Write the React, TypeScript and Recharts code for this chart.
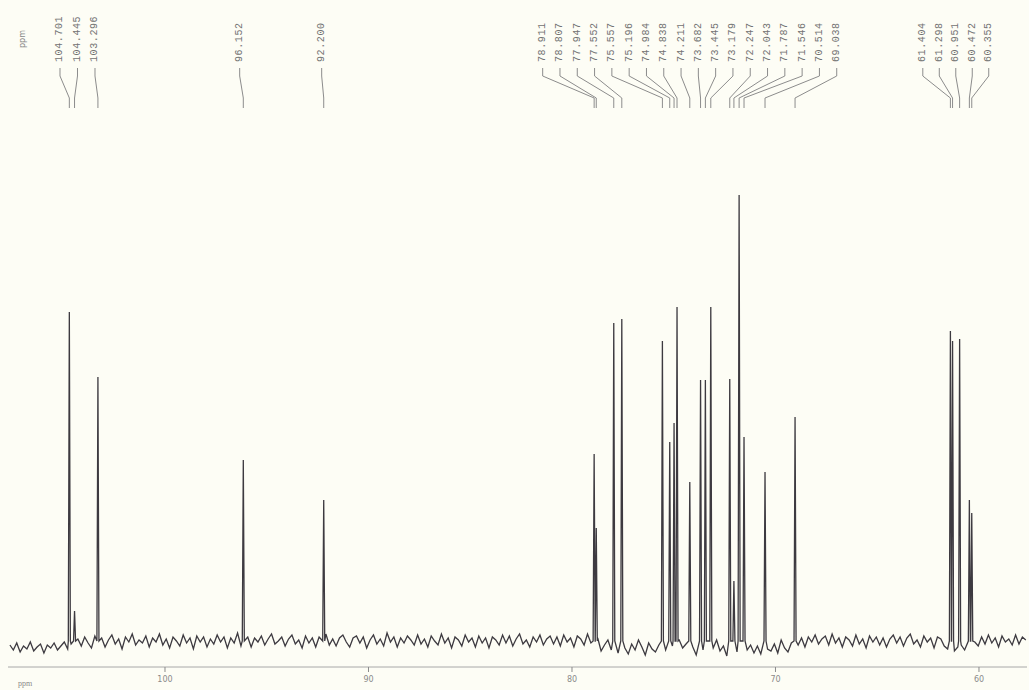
import { ComposedChart, Line, Scatter, XAxis, YAxis, Label } from 'recharts';

// 13C NMR peak list (ppm) and peak heights
const peakPpm = [
  104.701, 104.445, 103.296, 96.152, 92.2,
  78.911, 78.807, 77.947, 77.552, 75.557, 75.196, 74.984, 74.838, 74.211,
  73.682, 73.445, 73.179, 72.247, 72.043, 71.787, 71.546, 70.514, 69.038,
  61.404, 61.298, 60.951, 60.472, 60.355,
];
const peakHeight = [
  329, 30, 264, 181, 141,
  187, 113, 318, 322, 300, 199, 218, 334, 159,
  261, 261, 334, 262, 60, 446, 204, 169, 224,
  310, 300, 302, 141, 128,
];

// label slots above the spectrum (first peak index, last index, first slot ppm, spacing)
const labelGroups = [
  { from: 0, to: 2, start: 105.16, step: 0.86 },
  { from: 3, to: 3, start: 96.33, step: 0 },
  { from: 4, to: 4, start: 92.3, step: 0 },
  { from: 5, to: 22, start: 81.44, step: 0.85 },
  { from: 23, to: 27, start: 62.76, step: 0.81 },
];

const axisTicks = [100, 90, 80, 70, 60];

// baseline noise, left to right (107.6 -> 57.7 ppm)
const noise = [
  -4, -9, -2, -11, -5, -8, -1, -10, -6, -3, -12, -4, -7, -2, -9, -5, -1, -8, -3, -6,
  2, -5, 4, -2, -7, 5, -1, 3, -6, 1, 6, -3, 2, -8, 4, -1, 7, -4, 1, -2,
  5, -6, 3, -1, 7, -4, 2, -7, 4, 0, -5, 6, -2, 3, -8, 5, -1, 4, -6, 2,
  -3, 6, -1, 4, -7, 3, -2, 8, -5, 1, 4, -6, 3, -1, 5, -4, 2, 7, -3, 0,
  4, -5, 2, 6, -3, 1, -7, 5, -2, 3, -6, 4, 0, 7, -4, 2, -5, 3, 6, -1,
  -6, 3, 5, -2, 4, -7, 1, 6, -3, 2, -5, 8, -1, 4, -6, 3, -2, 5, 1, -4,
  6, -3, 2, -6, 5, 0, -4, 7, -2, 3, -7, 4, 1, -5, 6, -1, 3, -6, 5, -2,
  3, -7, 4, 1, -4, 6, -2, 5, -5, 2, 7, -3, 1, -6, 4, -1, 6, -4, 2, 5,
  -3, 4, -5, 6, -1, 3, -6, 5, 2, -4, 7, -2, -8, 3, -10, -4, 1, -9, -3, -12,
  2, -7, -13, -3, -9, 1, -6, -14, -2, -8, -11, -4, 2, -9, -15, -5, -10, 1, -7, -3,
  -12, -6, -14, -2, -9, -4, -13, -7, 1, -10, -5, -15, -8, -3, -11, -6, -1, -9, -4, -12,
  -5, -13, -2, -8, -10, -3, -12, 1, -7, -11, -2, 5, -4, 3, -6, 4, -1, 6, -3, 2,
  5, -4, 7, -2, 3, -6, 4, 1, -5, 6, -3, 2, -7, 5, -1, 4, -4, 3, -6, 2,
  6, -2, 4, -5, 3, 7, -3, 1, -6, 5, -1, 3, -7, 4, 2, -5, -8, -3, -10, -6,
  -4, -9, -2, -7, -1, -5, 4, -3, 6, -2, 3, -6, 5, -1, 2, -4, 6, -3, 4, 1,
];

const X_MIN = 57.64;
const X_MAX = 107.715;
const NOISE_FROM = 107.62;
const NOISE_TO = 57.7;
const FOOT = 0.05;

// leader line levels (intensity units, 1 unit = 1px)
const TEXT_Y = 579;
const LEAD_TOP = 573;
const LEAD_BEND1 = 565;
const LEAD_BEND2 = 543;
const LEAD_BOTTOM = 533;

function buildSpectrum() {
  const pts: { x: number; y: number }[] = [];
  const stepX = (NOISE_FROM - NOISE_TO) / (noise.length - 1);
  noise.forEach((v, i) => {
    const x = NOISE_FROM - i * stepX;
    if (peakPpm.every((p) => Math.abs(p - x) > FOOT + 0.02)) pts.push({ x, y: v });
  });
  peakPpm.forEach((p, i) => {
    pts.push({ x: p + FOOT, y: 0 });
    pts.push({ x: p, y: peakHeight[i] });
    pts.push({ x: p - FOOT, y: 0 });
  });
  return pts.sort((a, b) => b.x - a.x);
}

function labelSlots() {
  const slots: { x: number; peak: number; text: string }[] = [];
  labelGroups.forEach((g) => {
    for (let i = g.from; i <= g.to; i++) {
      slots.push({ x: g.start - (i - g.from) * g.step, peak: peakPpm[i], text: peakPpm[i].toFixed(3) });
    }
  });
  return slots;
}

const LabelText = (props: any) => {
  const { cx, cy, payload } = props;
  return (
    <text
      x={cx}
      y={cy}
      transform={`rotate(-90 ${cx} ${cy})`}
      fontSize={10}
      fill="#727272"
      fontFamily="Liberation Mono, DejaVu Sans Mono, monospace"
      dominantBaseline="central"
      letterSpacing={0.6}
    >
      {payload.text}
    </text>
  );
};

export default function App() {
  const spectrum = buildSpectrum();
  const slots = labelSlots();
  const textPoints = slots.map((s) => ({ x: s.x, y: TEXT_Y, text: s.text }));

  return (
    <div style={{ position: 'absolute', left: 0, top: 0, width: 1029, height: 690, background: '#fdfdf5', overflow: 'hidden' }}>
      <ComposedChart width={1029} height={690} margin={{ top: 0, right: 2, bottom: 0, left: 8 }}>
        <XAxis
          type="number"
          dataKey="x"
          domain={[X_MIN, X_MAX]}
          reversed
          allowDataOverflow
          ticks={axisTicks}
          height={23}
          tickSize={5}
          tickMargin={4}
          axisLine={{ stroke: '#a8a8a8' }}
          tickLine={{ stroke: '#8a8a8a' }}
          tick={{ fontSize: 8, fill: '#8a8a8a', fontFamily: 'DejaVu Sans' }}
        >
          <Label value="ppm" position="insideBottomLeft" offset={4} dx={6} fontSize={8} fill="#8a8a8a" />
        </XAxis>
        <YAxis type="number" hide domain={[-26, 641]} allowDataOverflow />
        <Line
          data={spectrum}
          dataKey="y"
          type="linear"
          stroke="#3d3a40"
          strokeWidth={1.3}
          dot={false}
          isAnimationActive={false}
        />
        {slots.map((s, i) => (
          <Line
            key={i}
            data={[
              { x: s.x, y: LEAD_TOP },
              { x: s.x, y: LEAD_BEND1 },
              { x: s.peak, y: LEAD_BEND2 },
              { x: s.peak, y: LEAD_BOTTOM },
            ]}
            dataKey="y"
            type="linear"
            stroke="#8c8c8c"
            strokeWidth={1}
            dot={false}
            isAnimationActive={false}
          />
        ))}
        <Scatter data={textPoints} dataKey="y" shape={LabelText} isAnimationActive={false} />
      </ComposedChart>
      <svg style={{ position: 'absolute', left: 0, top: 0 }} width={40} height={60}>
        <text x={22} y={48} transform="rotate(-90 22 48)" fontSize={8} fill="#8a8a8a" fontFamily="DejaVu Sans" dominantBaseline="central">
          ppm
        </text>
      </svg>
    </div>
  );
}
